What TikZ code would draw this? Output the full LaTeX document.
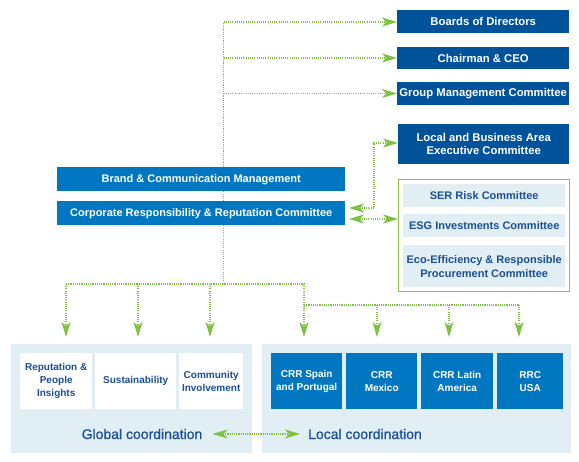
\documentclass[tikz,border=0pt]{standalone}
\usepackage{fontspec}
\setmainfont{Liberation Sans}
\newfontfamily\coordfont[FakeBold=0.7]{Liberation Sans}
\usetikzlibrary{arrows.meta}
\definecolor{dkblue}{HTML}{00529B}
\definecolor{mdblue}{HTML}{0077C0}
\definecolor{ltpanel}{HTML}{E1EEF4}
\definecolor{navytext}{HTML}{1A4F96}
\definecolor{grn}{HTML}{7DC243}
\definecolor{grnbox}{HTML}{8CC63F}
\begin{document}
\begin{tikzpicture}[x=1pt,y=-1pt,
  base/.style={inner sep=0pt,anchor=north west,align=center},
  dkbox/.style={base,fill=dkblue,text=white,font=\fontsize{11.3}{13.5}\selectfont\bfseries},
  mdbox/.style={base,fill=mdblue,text=white,font=\fontsize{11}{13.5}\selectfont\bfseries},
  ltbox/.style={base,fill=ltpanel,text=navytext,font=\fontsize{11}{14}\selectfont\bfseries},
  whbox/.style={base,fill=white,text=navytext,font=\fontsize{10}{12.8}\selectfont\bfseries},
  loc/.style={base,fill=mdblue,text=white,font=\fontsize{10}{12.8}\selectfont\bfseries},
  panel/.style={base,fill=ltpanel},
  coordtext/.style={inner sep=0pt,text=navytext,font=\coordfont\fontsize{14}{16}\selectfont},
  dl/.style={draw=grn,line width=1.1pt,dash pattern=on 1.1pt off 1.1pt},
  dla/.style={dl,-{Stealth[length=15pt,width=9pt,inset=4pt]}},
  dlaa/.style={dl,{Stealth[length=15pt,width=9pt,inset=4pt]}-{Stealth[length=15pt,width=9pt,inset=4pt]}}
]
\useasboundingbox (0,0) rectangle (579,462);

% panels
\node[panel,minimum width=241pt,minimum height=109pt] (gpanel) at (11,344) {};
\node[panel,minimum width=309pt,minimum height=109pt] (lpanel) at (262,344) {};
\node[base,draw=grnbox,line width=1.2pt,fill=white,minimum width=171pt,minimum height=112pt] (gbox) at (398,179) {};

% top boxes
\node[dkbox,minimum width=172pt,minimum height=23pt] (bod) at (397,10) {Boards of Directors};
\node[dkbox,minimum width=172pt,minimum height=22pt] (ceo) at (397,47) {Chairman \& CEO};
\node[dkbox,minimum width=172pt,minimum height=23pt] (gmc) at (397,82) {Group Management Committee};
\node[dkbox,minimum width=171pt,minimum height=40pt] (lbe) at (398,124) {Local and Business Area\\Executive Committee};

% middle
\node[mdbox,minimum width=288pt,minimum height=24pt] (brand) at (57,167) {Brand \& Communication Management};
\node[mdbox,minimum width=288pt,minimum height=24pt] (crr) at (57,201) {Corporate Responsibility \& Reputation Committee};

\node[ltbox,minimum width=162pt,minimum height=23pt] (ser) at (403,184) {SER Risk Committee};
\node[ltbox,minimum width=162pt,minimum height=23pt] (esg) at (403,214) {ESG Investments Committee};
\node[ltbox,minimum width=162pt,minimum height=42pt] (eco) at (403,245) {Eco-Efficiency \& Responsible\\Procurement Committee};

% bottom boxes
\node[whbox,minimum width=72pt,minimum height=56pt] (rep) at (20,353) {Reputation \&\\People\\Insights};
\node[whbox,minimum width=81pt,minimum height=56pt] (sus) at (95,353) {Sustainability};
\node[whbox,minimum width=64pt,minimum height=56pt] (com) at (179,353) {Community\\Involvement};
\node[loc,minimum width=71pt,minimum height=56pt] (spa) at (271,353) {CRR Spain\\and Portugal};
\node[loc,minimum width=71pt,minimum height=56pt] (mex) at (346,353) {CRR\\Mexico};
\node[loc,minimum width=72pt,minimum height=56pt] (lat) at (421,353) {CRR Latin\\America};
\node[loc,minimum width=66pt,minimum height=56pt] (usa) at (497,353) {RRC\\USA};

\node[coordtext] (gtext) at (142,434) {Global coordination};
\node[coordtext] (ltext) at (365,434) {Local coordination};

% connectors top
\coordinate (tA) at (223.5,22);
\coordinate (tB) at (223.5,58);
\coordinate (tC) at (223.5,93.5);
\draw[dl] (brand.north -| tA) -- (tA);
\draw[dla] (tA) -- (tA -| bod.west);
\draw[dla] (tB) -- (tB -| ceo.west);
\draw[dla] (tC) -- (tC -| gmc.west);
\draw[dl] (brand.south -| tA) -- (crr.north -| tA);

% local exec and committees
\coordinate (lx) at (374,143);
\coordinate (ctip1) at (349,208);
\coordinate (ctip2) at (349,219);
\draw[dlaa] (ctip1) -| (lx) -- (lx -| lbe.west);
\draw[dlaa] (ctip2) -- (ctip2 -| gbox.west);

% bottom tree
\coordinate (hM) at (223.5,284);
\coordinate (hL) at (66,284);
\coordinate (hR) at (304,284);
\coordinate (h2R) at (519,305);
\coordinate (aY) at (0,337);
\draw[dl] (crr.south -| hM) -- (hM);
\draw[dl] (hL) -- (hR);
\draw[dla] (hL) -- (hL |- aY);
\draw[dla] (138,284) -- (138,337);
\draw[dla] (210,284) -- (210,337);
\draw[dla] (hR) -- (hR |- aY);
\draw[dl] (304,305) -- (h2R);
\draw[dla] (377,305) -- (377,337);
\draw[dla] (449,305) -- (449,337);
\draw[dla] (h2R) -- (h2R |- aY);

% global-local
\draw[dlaa] ([xshift=10pt]gtext.east) -- ([xshift=-8pt]ltext.west);
\end{tikzpicture}
\end{document}
